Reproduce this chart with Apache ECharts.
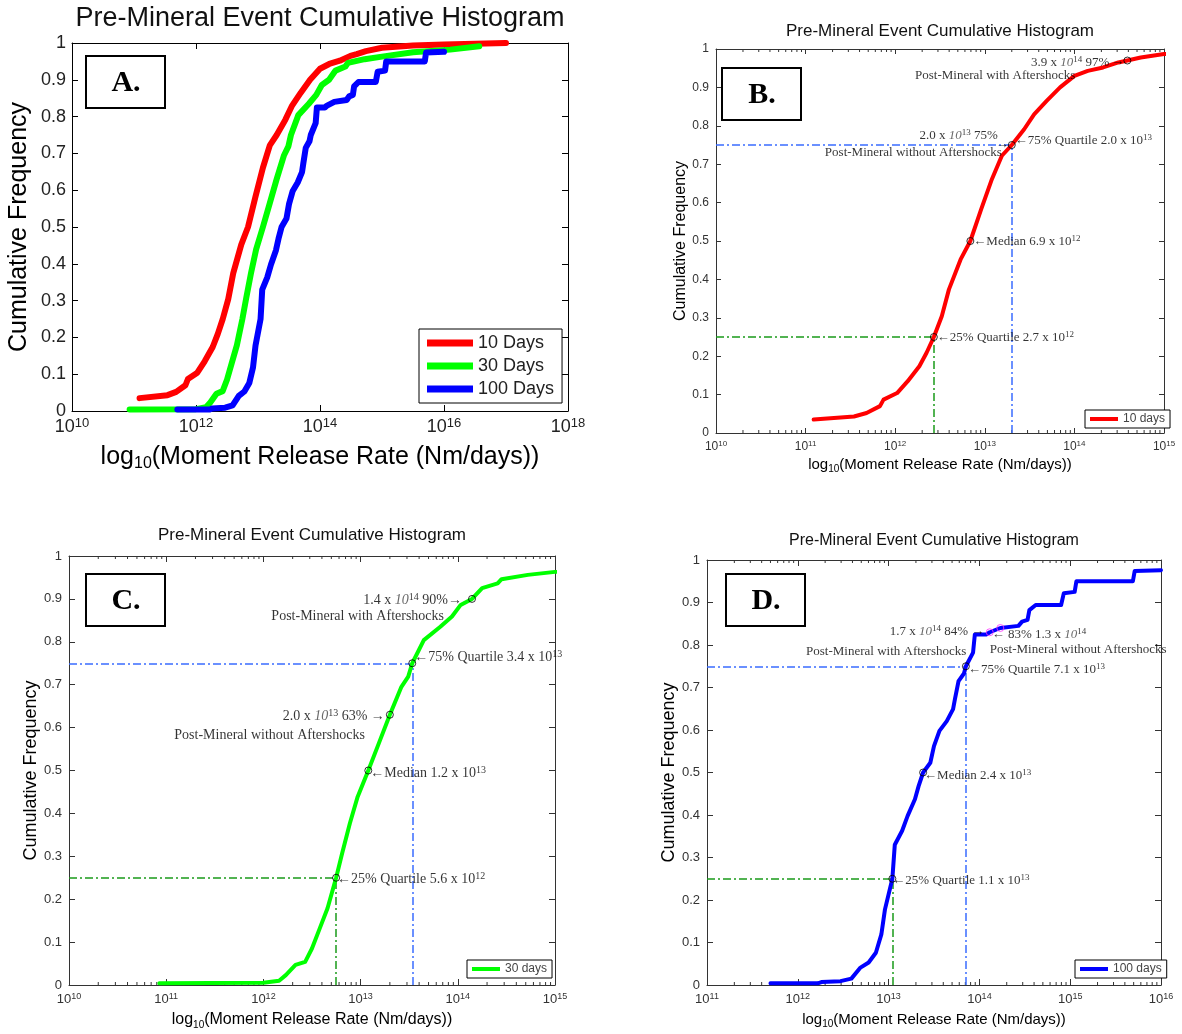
<!DOCTYPE html>
<html><head><meta charset="utf-8">
<script src="https://cdn.jsdelivr.net/npm/echarts@6/dist/echarts.min.js"></script>
<style>html,body{margin:0;padding:0;background:#fff}#c{width:1182px;height:1034px}</style>
</head><body><div id="c"></div>
<script>
// ---------------- DATA ----------------
// 10-day window (red)
const days10Rate = [1.23e11,3.47e11,4.79e11,6.76e11,7.41e11,1.05e12,1.38e12,1.86e12,2.24e12,2.7e12,3.31e12,3.98e12,5.37e12,6.9e12,9.12e12,1.2e13,1.55e13,2.0e13,2.75e13,3.55e13,4.9e13,6.92e13,1.0e14,1.41e14,2.09e14,3.09e14,3.9e14,5.5e14,1.0e15,3.16e15,1.0e16,3.16e16,1.0e17];
const days10Freq = [0.035,0.043,0.052,0.07,0.087,0.104,0.135,0.174,0.209,0.25,0.304,0.374,0.452,0.5,0.583,0.661,0.722,0.75,0.791,0.83,0.865,0.9,0.93,0.943,0.952,0.965,0.97,0.978,0.987,0.993,0.996,0.998,1.0];
// 30-day window (green)
const days30Rate = [8.5e10,1.0e12,1.45e12,1.7e12,2.14e12,2.69e12,3.16e12,3.8e12,4.57e12,5.6e12,6.46e12,7.76e12,9.33e12,1.2e13,1.55e13,2.0e13,2.63e13,3.09e13,3.4e13,4.47e13,6.61e13,8.71e13,1.07e14,1.4e14,1.78e14,2.57e14,2.82e14,5.25e14,1.0e15,3.16e15,1.26e16,3.7e16];
const days30Freq = [0.004,0.005,0.01,0.023,0.047,0.054,0.085,0.132,0.179,0.25,0.307,0.377,0.439,0.5,0.565,0.63,0.695,0.719,0.75,0.804,0.835,0.859,0.886,0.9,0.925,0.936,0.946,0.956,0.963,0.975,0.982,0.991];
// 100-day window (blue)
const days100Rate = [5.0e11,1.66e12,1.82e12,2.95e12,3.89e12,4.9e12,6.03e12,7.24e12,8.32e12,9.12e12,1.1e13,1.17e13,1.41e13,1.62e13,1.95e13,2.14e13,2.4e13,2.88e13,3.16e13,3.63e13,4.37e13,5.13e13,5.37e13,5.89e13,6.76e13,7.1e13,8.51e13,8.91e13,1.2e14,1.3e14,1.7e14,2.69e14,2.95e14,3.39e14,3.55e14,4.17e14,7.94e14,8.51e14,1.12e15,1.17e15,4.9e15,5.13e15,1.0e16];
const days100Freq = [0.004,0.004,0.007,0.009,0.015,0.041,0.053,0.076,0.119,0.178,0.25,0.33,0.363,0.398,0.437,0.468,0.5,0.523,0.562,0.598,0.621,0.649,0.672,0.715,0.733,0.75,0.782,0.825,0.825,0.83,0.84,0.845,0.855,0.859,0.882,0.894,0.894,0.922,0.925,0.95,0.95,0.974,0.976];

// quartile values [25%, median, 75%]
const quartileLevels = [0.25, 0.5, 0.75];
const bQuartiles = [2.7e12, 6.9e12, 2.0e13];
const cQuartiles = [5.6e12, 1.2e13, 3.4e13];
const dQuartiles = [1.1e13, 2.4e13, 7.1e13];
// post-mineral reference points [rate, frequency]: [without aftershocks, with aftershocks]
const bPostMineral = [[2.0e13, 0.75], [3.9e14, 0.97]];
const cPostMineral = [[2.0e13, 0.63], [1.4e14, 0.90]];
const dPostMineral = [[1.3e14, 0.83], [1.7e14, 0.84]];

// axis ranges
const axisRangeA = [1e10, 1e18];
const axisRangeB = [1e10, 1e15];
const axisRangeC = [1e10, 1e15];
const axisRangeD = [1e11, 1e16];
const minorMantissas = [2,3,4,5,6,7,8,9];

const titleText = 'Pre-Mineral Event Cumulative Histogram';
const yName = 'Cumulative Frequency';
const xName = '{n|log}{sub|10}{n|(Moment Release Rate (Nm/days))}';

// ---------------- HELPERS ----------------
const SANS = '"Liberation Sans", Arial, sans-serif';
const SERIF = '"Liberation Serif", "Times New Roman", serif';
const zip = (xs, ys) => xs.map((x, i) => [x, ys[i]]);

function xAxes(grid, range, interval, o) {
  const rich = {
    b: {fontSize: o.fs, fontFamily: SANS, color: o.lc, lineHeight: o.fs + 2},
    s: {fontSize: o.ss, fontFamily: SANS, color: o.lc, lineHeight: Math.round(o.ss * 0.6), verticalAlign: 'top'}
  };
  const line = {onZero: false, lineStyle: {color: o.ac, width: 1}};
  const tick = {show: true, inside: true, length: o.tl, lineStyle: {color: o.ac}};
  return [
    {type: 'log', logBase: 10, gridIndex: grid, min: range[0], max: range[1], interval: interval,
     position: 'bottom', axisLine: line, axisTick: tick, splitLine: {show: false}, minorTick: {show: false},
     axisLabel: {margin: o.lm, formatter: v => '{b|10}{s|' + Math.round(Math.log10(v)) + '}', rich: rich,
                 showMinLabel: true, showMaxLabel: true},
     name: xName, nameLocation: 'middle', nameGap: o.ng,
     nameTextStyle: {rich: {
       n: {fontSize: o.nf, fontFamily: SANS, color: '#000', lineHeight: o.nf + 4},
       sub: {fontSize: Math.round(o.nf * 0.65), fontFamily: SANS, color: '#000', lineHeight: Math.round(o.nf * 0.4), verticalAlign: 'bottom'}
     }}},
    {type: 'log', logBase: 10, gridIndex: grid, min: range[0], max: range[1], interval: interval,
     position: 'top', axisLine: line, axisTick: tick, splitLine: {show: false}, axisLabel: {show: false}}
  ];
}
function yAxes(grid, o) {
  const line = {show: true, onZero: false, lineStyle: {color: o.ac, width: 1}};
  const tick = {show: true, inside: true, length: o.tl, lineStyle: {color: o.ac}};
  return [
    {type: 'value', gridIndex: grid, min: 0, max: 1, interval: 0.1, position: 'left',
     axisLine: line, axisTick: tick, splitLine: {show: false},
     axisLabel: {fontSize: o.fs, fontFamily: SANS, color: o.lc, margin: o.lm},
     name: yName, nameLocation: 'middle', nameGap: o.yng,
     nameTextStyle: {fontSize: o.ynf, fontFamily: SANS, color: '#000'}},
    {type: 'value', gridIndex: grid, min: 0, max: 1, interval: 0.1, position: 'right',
     axisLine: line, axisTick: tick, splitLine: {show: false}, axisLabel: {show: false}}
  ];
}
function minorTickSeries(ax, range) {
  const data = [];
  const lo = Math.round(Math.log10(range[0])), hi = Math.round(Math.log10(range[1]));
  for (let e = lo; e < hi; e++) for (const m of minorMantissas) data.push([m * Math.pow(10, e), 0]);
  return {
    type: 'custom', xAxisIndex: ax, yAxisIndex: ax, data: data, clip: false, silent: true, z: 3,
    renderItem: function (params, api) {
      const b = api.coord([api.value(0), 0]);
      const t = api.coord([api.value(0), 1]);
      return {type: 'group', children: [
        {type: 'line', shape: {x1: b[0], y1: b[1], x2: b[0], y2: b[1] - 3}, style: {stroke: '#333', lineWidth: 1}},
        {type: 'line', shape: {x1: t[0], y1: t[1], x2: t[0], y2: t[1] + 3}, style: {stroke: '#333', lineWidth: 1}}
      ]};
    }
  };
}
const BLUE_DASH = {color: '#3a6cff', width: 1.5, type: [8, 3, 2, 3], opacity: 1};
const GREEN_DASH = {color: '#1a9a1a', width: 1.5, type: [8, 3, 2, 3], opacity: 1};
function guides(xMin, q) {
  return {
    silent: true, symbol: ['none', 'none'], animation: false, label: {show: false},
    emphasis: {disabled: true},
    data: [
      [{coord: [xMin, quartileLevels[2]], lineStyle: BLUE_DASH}, {coord: [q[2], quartileLevels[2]], lineStyle: BLUE_DASH}],
      [{coord: [q[2], 0], lineStyle: BLUE_DASH}, {coord: [q[2], quartileLevels[2]], lineStyle: BLUE_DASH}],
      [{coord: [xMin, quartileLevels[0]], lineStyle: GREEN_DASH}, {coord: [q[0], quartileLevels[0]], lineStyle: GREEN_DASH}],
      [{coord: [q[0], 0], lineStyle: GREEN_DASH}, {coord: [q[0], quartileLevels[0]], lineStyle: GREEN_DASH}]
    ]
  };
}
function richFor(fs) {
  return {
    t: {fontFamily: SERIF, fontSize: fs, color: '#000', lineHeight: fs + 2},
    i: {fontFamily: SERIF, fontSize: fs, fontStyle: 'italic', color: '#444', lineHeight: fs + 2},
    p: {fontFamily: SERIF, fontSize: Math.round(fs * 0.68), color: '#000', lineHeight: Math.round(fs * 0.45), verticalAlign: 'top'}
  };
}
function ann(v, text, align, dx, dy, fs, symColor) {
  return {
    value: v,
    symbol: 'circle',
    symbolSize: symColor ? 7 : 1,
    itemStyle: symColor ? {color: 'rgba(0,0,0,0)', borderColor: symColor, borderWidth: 1} : {color: 'rgba(0,0,0,0)', borderWidth: 0},
    label: {show: true, position: 'inside', align: align, verticalAlign: 'middle', offset: [dx, dy],
            formatter: text, rich: richFor(fs)}
  };
}
function annSeries(ax, items) {
  return {type: 'scatter', xAxisIndex: ax, yAxisIndex: ax, data: items, z: 10, clip: false, silent: true,
          emphasis: {disabled: true}, animation: false};
}
function curve(name, ax, xs, ys, color, width, extra) {
  return Object.assign({
    type: 'line', name: name, xAxisIndex: ax, yAxisIndex: ax, data: zip(xs, ys),
    showSymbol: false, symbol: 'none', color: color, animation: false,
    lineStyle: {color: color, width: width, join: 'round', cap: 'round'}, z: 5
  }, extra || {});
}
function legendBox(name, left, top) {
  return {data: [name], left: left, top: top, padding: [3, 5, 3, 5], itemWidth: 28, itemHeight: 4, icon: 'rect',
          itemGap: 4, borderColor: '#000', borderWidth: 1, backgroundColor: '#fff', selectedMode: false,
          textStyle: {fontSize: 12, fontFamily: SANS, color: '#444'}};
}
function boxLabel(txt, x, y) {
  return {type: 'group', x: x, y: y, z: 100, children: [
    {type: 'rect', shape: {x: 0, y: 0, width: 79, height: 52}, style: {fill: '#fff', stroke: '#000', lineWidth: 2}},
    {type: 'text', x: 40, y: 27, style: {text: txt, fontFamily: SERIF, fontWeight: 'bold', fontSize: 30,
      align: 'center', verticalAlign: 'middle', fill: '#000'}}
  ]};
}
function titleAt(cx, top, fs) {
  return {text: titleText, left: cx, top: top, padding: 0, textAlign: 'center',
          textStyle: {fontSize: fs, fontWeight: 'normal', fontFamily: SANS, color: '#111'}};
}

// style sets
const styA = {fs: 18, ss: 13, lc: '#222', ac: '#000', tl: 6, lm: 6, nf: 25, ng: 32, yng: 40, ynf: 25};
const styB = {fs: 12, ss: 8, lc: '#333', ac: '#333', tl: 5, lm: 7, nf: 15, ng: 22, yng: 22, ynf: 16};
const styC = {fs: 13, ss: 9, lc: '#333', ac: '#333', tl: 6, lm: 7, nf: 16, ng: 25, yng: 22, ynf: 18};
const styD = {fs: 13, ss: 9, lc: '#333', ac: '#333', tl: 6, lm: 7, nf: 15, ng: 25, yng: 21, ynf: 18};

// ---------------- OPTION ----------------
const option = {
  backgroundColor: '#fff',
  animation: false,
  title: [titleAt(320, 5, 27), titleAt(940, 23, 17), titleAt(312, 527, 17), titleAt(934, 533, 16)],
  grid: [
    {left: 72, top: 43, width: 496, height: 368},
    {left: 716, top: 49, width: 448, height: 384},
    {left: 69, top: 556, width: 486, height: 429},
    {left: 707, top: 560, width: 454, height: 425}
  ],
  xAxis: [].concat(
    xAxes(0, axisRangeA, 2, styA),
    xAxes(1, axisRangeB, 1, styB),
    xAxes(2, axisRangeC, 1, styC),
    xAxes(3, axisRangeD, 1, styD)
  ),
  yAxis: [].concat(yAxes(0, styA), yAxes(1, styB), yAxes(2, styC), yAxes(3, styD)),
  legend: [
    {data: ['10 Days', '30 Days', '100 Days'], orient: 'vertical', left: 419, top: 329,
     padding: [5, 8, 5, 8], itemGap: 5, itemWidth: 46, itemHeight: 7, icon: 'rect', selectedMode: false,
     borderColor: '#000', borderWidth: 1, backgroundColor: '#fff',
     textStyle: {fontSize: 18, fontFamily: SANS, color: '#222'}},
    legendBox('10 days', 1085, 410),
    legendBox('30 days', 467, 960),
    legendBox('100 days', 1075, 960)
  ],
  graphic: [boxLabel('A.', 86, 56), boxLabel('B.', 722, 68), boxLabel('C.', 86, 574), boxLabel('D.', 726, 574)],
  series: [
    // Panel A
    curve('10 Days', 0, days10Rate, days10Freq, '#ff0000', 6),
    curve('30 Days', 0, days30Rate, days30Freq, '#00ff00', 6),
    curve('100 Days', 0, days100Rate, days100Freq, '#0000ff', 6),
    // Panel B
    curve('10 days', 2, days10Rate, days10Freq, '#ff0000', 4, {markLine: guides(axisRangeB[0], bQuartiles)}),
    minorTickSeries(2, axisRangeB),
    annSeries(2, [
      ann([bQuartiles[2], quartileLevels[2]], '{t|←75% Quartile 2.0 x 10}{p|13}', 'left', 3, -4, 13, '#000'),
      ann([bQuartiles[1], quartileLevels[1]], '{t|←Median 6.9 x 10}{p|12}', 'left', 3, 1, 13, '#000'),
      ann([bQuartiles[0], quartileLevels[0]], '{t|←25% Quartile 2.7 x 10}{p|12}', 'left', 3, 1, 13, '#000'),
      ann(bPostMineral[0], '{t|2.0 x }{i|10}{p|13}{t| 75%}', 'right', -14, -9, 13),
      ann(bPostMineral[0], '{t|→}', 'right', -3, 0, 13),
      ann(bPostMineral[0], '{t|Post-Mineral without Aftershocks}', 'right', -10, 8, 13),
      ann(bPostMineral[1], '{t|→}', 'right', -3, 1, 13, '#000'),
      ann(bPostMineral[1], '{t|3.9 x }{i|10}{p|14}{t| 97%}', 'right', -18, 2, 13),
      ann(bPostMineral[1], '{t|Post-Mineral with Aftershocks}', 'right', -52, 15, 13)
    ]),
    // Panel C
    curve('30 days', 4, days30Rate, days30Freq, '#00ff00', 4, {markLine: guides(axisRangeC[0], cQuartiles)}),
    minorTickSeries(4, axisRangeC),
    annSeries(4, [
      ann([cQuartiles[2], quartileLevels[2]], '{t|←75% Quartile 3.4 x 10}{p|13}', 'left', 2, -6, 14, '#000'),
      ann([cQuartiles[1], quartileLevels[1]], '{t|←Median 1.2 x 10}{p|13}', 'left', 2, 3, 14, '#000'),
      ann([cQuartiles[0], quartileLevels[0]], '{t|←25% Quartile 5.6 x 10}{p|12}', 'left', 1, 2, 14, '#000'),
      ann(cPostMineral[0], '{t|2.0 x }{i|10}{p|13}{t| 63% →}', 'right', -5, 2, 14, '#000'),
      ann(cPostMineral[0], '{t|Post-Mineral without Aftershocks}', 'right', -25, 21, 14),
      ann(cPostMineral[1], '{t|1.4 x }{i|10}{p|14}{t| 90%→}', 'right', -10, 1, 14, '#000'),
      ann(cPostMineral[1], '{t|Post-Mineral with Aftershocks}', 'right', -28, 17, 14)
    ]),
    // Panel D
    curve('100 days', 6, days100Rate, days100Freq, '#0000ff', 4, {markLine: guides(axisRangeD[0], dQuartiles)}),
    minorTickSeries(6, axisRangeD),
    annSeries(6, [
      ann([dQuartiles[2], quartileLevels[2]], '{t|←75% Quartile 7.1 x 10}{p|13}', 'left', 2, 3, 13, '#000'),
      ann([dQuartiles[1], quartileLevels[1]], '{t|←Median 2.4 x 10}{p|13}', 'left', 1, 3, 13, '#000'),
      ann([dQuartiles[0], quartileLevels[0]], '{t|←25% Quartile 1.1 x 10}{p|13}', 'left', 0, 2, 13, '#000'),
      ann(dPostMineral[1], '{t|1.7 x }{i|10}{p|14}{t| 84% →}', 'right', -16, 4, 13, '#ff33ff'),
      ann(dPostMineral[1], '{t|Post-Mineral with Aftershocks}', 'right', -34, 24, 13),
      ann(dPostMineral[0], '{t|← 83% 1.3 x }{i|10}{p|14}', 'left', 2, 2, 13, '#ff33ff'),
      ann(dPostMineral[0], '{t|Post-Mineral without Aftershocks}', 'left', 0, 17, 13)
    ])
  ]
};

const chart = echarts.init(document.getElementById('c'), null, {renderer: 'canvas'});
chart.setOption(option);
</script>
</body></html>
